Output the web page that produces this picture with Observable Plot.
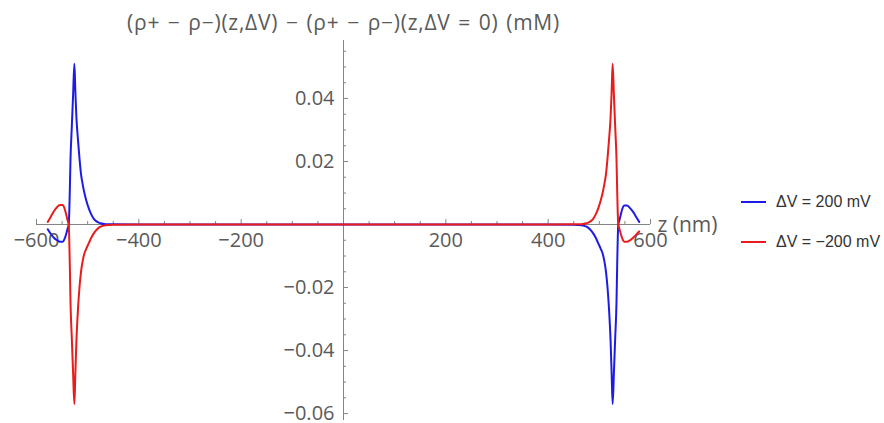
<!DOCTYPE html>
<html>
<head>
<meta charset="utf-8">
<script src="https://cdn.jsdelivr.net/npm/d3@7"></script>
<script src="https://cdn.jsdelivr.net/npm/@observablehq/plot@0.6"></script>
<style>
  body { margin: 0; background: #fff; }
  #chart { position: relative; width: 884px; height: 423px; }
  .legend { position: absolute; left: 741px; height: 20px; display: flex; align-items: center;
            font-family: "Liberation Sans", Arial, sans-serif; font-size: 16px; color: #333; white-space: nowrap; }
  .legend .sw { display: inline-block; width: 25px; height: 2px; margin-right: 10px; }
</style>
</head>
<body>
<div id="chart"></div>
<script>
// Position along the channel (nm), sampled densely around the two membrane interfaces
const z = [
  -578, -572, -566, -560, -554, -549, -545, -542, -539, -537, -535, -533.5, -531, -528.5, -526,
  -524, -522, -519, -516, -513, -510, -507, -503, -498, -493, -488, -482, -475, -465,
  -450, -400, -300, -200, -100, 0, 100, 200, 300, 400, 450,
  465, 475, 482, 488, 493, 498, 503, 507, 510, 513, 516, 519, 522, 524,
  526, 528.5, 531, 533.5, 535, 537, 539, 542, 545, 549, 554, 560, 566, 572, 578
];

// Charge density change (mM) for ΔV = 200 mV
const rhoPlus200 = [
  -0.0015, -0.003, -0.0042, -0.005, -0.0055, -0.0055, -0.0045, -0.003, -0.0012, 0.0, 0.010, 0.021, 0.031, 0.041, 0.051,
  0.042, 0.034, 0.027, 0.021, 0.016, 0.013, 0.0105, 0.0078, 0.0052, 0.0032, 0.0018, 0.0009, 0.0004, 0.0001,
  0.00005, 0, 0, 0, 0, 0, 0, 0, 0, 0, -0.00005,
  -0.0002, -0.0007, -0.0016, -0.0028, -0.0042, -0.006, -0.0078, -0.0095, -0.0118, -0.015, -0.020, -0.027, -0.037, -0.047,
  -0.057, -0.047, -0.036, -0.025, -0.012, 0.0, 0.0012, 0.0032, 0.005, 0.006, 0.006, 0.0052, 0.004, 0.0024, 0.0008
];

// Charge density change (mM) for ΔV = −200 mV
const rhoMinus200 = [
  0.0008, 0.0025, 0.0042, 0.0055, 0.0062, 0.0062, 0.005, 0.0032, 0.0012, 0.0, -0.012, -0.025, -0.036, -0.047, -0.057,
  -0.047, -0.037, -0.027, -0.020, -0.015, -0.0118, -0.0095, -0.0078, -0.006, -0.0042, -0.0028, -0.0016, -0.0007, -0.0002,
  -0.00005, 0, 0, 0, 0, 0, 0, 0, 0, 0, 0.00005,
  0.0001, 0.0004, 0.0009, 0.0018, 0.0032, 0.0052, 0.0078, 0.0105, 0.013, 0.016, 0.021, 0.027, 0.034, 0.042,
  0.051, 0.041, 0.031, 0.021, 0.010, 0.0, -0.0012, -0.003, -0.0045, -0.0055, -0.0055, -0.005, -0.0042, -0.0032, -0.0022
];

const seriesNames = ["ΔV = 200 mV", "ΔV = −200 mV"];
const seriesColors = ["#1c1ce6", "#e81c1c"];

const xTickValues = [-600, -400, -200, 200, 400, 600];
const xTickLabels = ["−600", "−400", "−200", "200", "400", "600"];
const yTickValues = [-0.06, -0.04, -0.02, 0.02, 0.04];
const yTickLabels = ["−0.06", "−0.04", "−0.02", "0.02", "0.04"];

const titleText = "(ρ+ − ρ−)(z,ΔV) − (ρ+ − ρ−)(z,ΔV = 0) (mM)";
const xLabelText = "z (nm)";

// Layout
const W = 884, H = 423;
const mL = 36, mR = 234, mT = 40, mB = 3;
const xDomain = [-600, 600];
const yDomain = [-0.0622, 0.0584];
const axisColor = "#858585";
const textColor = "#5a5a5a";
const font = "'Open Sans', 'Noto Sans', sans-serif";

// tick lengths in pixels, converted to data units along the perpendicular axis
const pxPerY = (H - mT - mB) / (yDomain[1] - yDomain[0]);
const pxPerX = (W - mL - mR) / (xDomain[1] - xDomain[0]);
const majorLen = 5, minorLen = 3;

const xMinor = d3.range(-600, 601, 50).filter(v => v !== 0 && !xTickValues.includes(v));
const yMinor = d3.range(-60, 59, 5).map(v => v / 1000).filter(v => v !== 0 && !yTickValues.some(t => Math.abs(t - v) < 1e-9));

const rows = [
  ...z.map((zz, i) => ({z: zz, v: rhoPlus200[i], s: seriesNames[0]})),
  ...z.map((zz, i) => ({z: zz, v: rhoMinus200[i], s: seriesNames[1]}))
];

const plot = Plot.plot({
  width: W, height: H,
  marginLeft: mL, marginRight: mR, marginTop: mT, marginBottom: mB,
  x: {domain: xDomain, axis: null},
  y: {domain: yDomain, axis: null},
  color: {domain: seriesNames, range: seriesColors},
  style: {fontFamily: font, background: "transparent", overflow: "visible"},
  marks: [
    // axes through the origin
    Plot.ruleY([0], {stroke: axisColor, strokeWidth: 1}),
    Plot.ruleX([0], {stroke: axisColor, strokeWidth: 1}),
    // x ticks pointing up
    Plot.ruleX(xTickValues, {x: d => d, y1: 0, y2: majorLen / pxPerY, stroke: axisColor}),
    Plot.ruleX(xMinor, {x: d => d, y1: 0, y2: minorLen / pxPerY, stroke: axisColor}),
    // y ticks pointing right
    Plot.ruleY(yTickValues, {y: d => d, x1: 0, x2: majorLen / pxPerX, stroke: axisColor}),
    Plot.ruleY(yMinor, {y: d => d, x1: 0, x2: minorLen / pxPerX, stroke: axisColor}),
    // tick labels
    Plot.text(xTickValues, {x: d => d, y: () => 0, text: (d, i) => xTickLabels[i], dy: 16,
      fill: textColor, fontSize: 20, textAnchor: "middle"}),
    Plot.text(yTickValues, {x: () => 0, y: d => d, text: (d, i) => yTickLabels[i], dx: -9,
      fill: textColor, fontSize: 20, textAnchor: "end"}),
    // curves
    Plot.line(rows.filter(d => d.s === seriesNames[0]), {x: "z", y: "v", stroke: "s", strokeWidth: 2, curve: "monotone-x"}),
    Plot.line(rows.filter(d => d.s === seriesNames[1]), {x: "z", y: "v", stroke: "s", strokeWidth: 2, curve: "monotone-x"}),
    // axis labels
    Plot.text([xLabelText], {x: () => xDomain[1], y: () => 0, text: d => d, dx: 7, dy: 1,
      textAnchor: "start", fill: textColor, fontSize: 21}),
    Plot.text([titleText], {x: () => 0, text: d => d, frameAnchor: "top", dy: -25,
      fill: textColor, fontSize: 21, textAnchor: "middle", className: "ytitle"})
  ]
});

// spread the title a little, as the formula typesetting does
d3.select(plot).selectAll(".ytitle text")
  .attr("letter-spacing", "0.75px")
  .attr("word-spacing", "1.5px");

const chart = document.getElementById("chart");
chart.appendChild(plot);

// legend
const legendY = [201.7, 242.3];
seriesNames.forEach((name, i) => {
  const item = document.createElement("div");
  item.className = "legend";
  item.style.top = (legendY[i] - 10) + "px";
  const sw = document.createElement("span");
  sw.className = "sw";
  sw.style.background = seriesColors[i];
  item.appendChild(sw);
  item.appendChild(document.createTextNode(name));
  chart.appendChild(item);
});
</script>
</body>
</html>
